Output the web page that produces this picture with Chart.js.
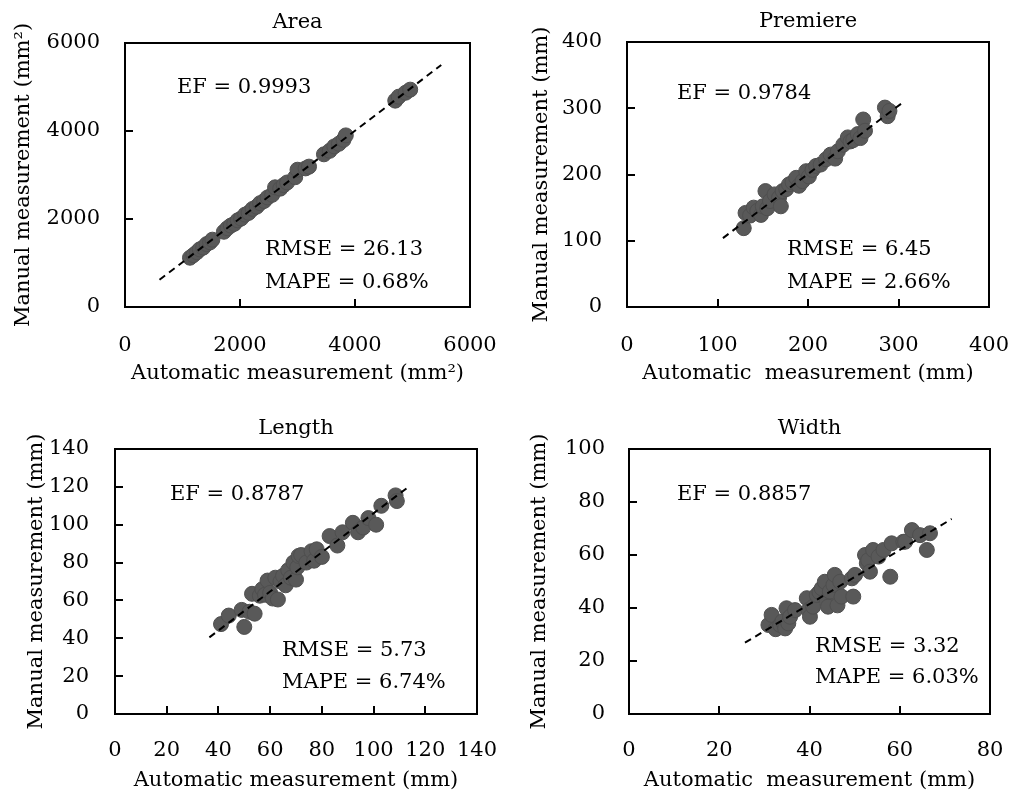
<!DOCTYPE html>
<html>
<head>
<meta charset="utf-8">
<script src="https://cdn.jsdelivr.net/npm/chart.js@4.4.1/dist/chart.umd.min.js"></script>
<style>
  body { margin: 0; background: #fff; }
  #wrap { position: relative; width: 1010px; height: 794px; }
  canvas { position: absolute; }
</style>
</head>
<body>
<div id="wrap">
  <canvas id="area" width="505" height="397" style="left:0;top:0"></canvas>
  <canvas id="premiere" width="505" height="397" style="left:505px;top:0"></canvas>
  <canvas id="length" width="505" height="397" style="left:0;top:397px"></canvas>
  <canvas id="width" width="505" height="397" style="left:505px;top:397px"></canvas>
</div>
<script>
// data
var areaAuto   = [1130, 1190, 1250, 1300, 1360, 1420, 1480, 1520, 1720, 1780, 1840, 1900, 1960, 2020, 2090, 2150, 2220, 2290, 2350, 2420, 2480, 2560, 2610, 2700, 2760, 2820, 2960, 3000, 3140, 3200, 3460, 3560, 3640, 3720, 3800, 3840, 4700, 4760, 4880, 4960];
var areaManual = [1120, 1180, 1245, 1310, 1350, 1430, 1470, 1530, 1710, 1790, 1850, 1890, 1970, 2010, 2100, 2140, 2230, 2280, 2360, 2410, 2490, 2550, 2720, 2690, 2770, 2830, 2950, 3120, 3150, 3190, 3470, 3550, 3650, 3710, 3800, 3900, 4690, 4780, 4870, 4940];
var areaLineX = [600, 5500];
var areaLineY = [620, 5500];

var premAuto   = [129, 131, 136, 140, 144, 148, 150, 153, 155, 158, 163, 168, 170, 172, 176, 179, 183, 187, 190, 194, 198, 201, 205, 209, 214, 220, 225, 230, 233, 239, 244, 247, 250, 255, 258, 261, 263, 285, 288, 290];
var premManual = [119, 142, 138, 150, 145, 139, 152, 175, 149, 160, 170, 165, 152, 175, 178, 185, 188, 195, 183, 190, 205, 197, 207, 213, 215, 223, 230, 224, 235, 245, 256, 250, 252, 261, 255, 283, 266, 301, 288, 296];
var premLineX = [106, 306];
var premLineY = [104, 310];

var lenAuto   = [41, 44, 49, 50, 52, 53, 54, 56, 57, 58, 59, 60, 61, 62, 63, 64, 65, 66, 67, 68, 69, 70, 70.5, 71, 72, 74, 76, 77, 78, 80, 83, 86, 88, 92, 94, 96, 98, 101, 103, 108.5, 109];
var lenManual = [47.5, 52, 55, 46, 54, 63.5, 53, 62.5, 66, 63, 70.5, 64, 61, 72, 60.5, 70, 73, 68, 76, 72, 80, 71, 77.5, 83.5, 84, 80, 86, 81, 87, 83, 94, 89, 96, 101, 96, 98.5, 103.5, 100, 110, 115.5, 112.5];
var lenLineX = [36.5, 114];
var lenLineY = [40.5, 120.5];

var widAuto   = [30.9, 31.6, 32.5, 33.5, 34.0, 34.6, 34.9, 35.3, 35.7, 36.8, 39.4, 39.8, 40.1, 40.8, 41.6, 42.2, 42.7, 43.4, 43.8, 44.1, 44.5, 45.3, 45.6, 46.2, 46.8, 47.1, 49.4, 49.7, 50.1, 52.3, 52.7, 53.0, 53.4, 54.1, 55.3, 56.4, 57.9, 58.2, 60.8, 61.2, 62.7, 64.5, 66.0, 66.7];
var widManual = [33.6, 37.4, 32, 33.6, 35, 32.3, 39.9, 34.2, 36.7, 39.2, 43.7, 39.2, 36.7, 40.5, 44.9, 46, 47.4, 49.9, 43.0, 40.5, 46.2, 48.7, 52.5, 41, 49.9, 44.3, 51.2, 44.3, 52.5, 60.0, 56.9, 58, 53.7, 61.9, 59.4, 61.9, 51.8, 64.4, 65.0, 65, 69.4, 67.5, 61.9, 68.2];
var widLineX = [25.7, 71.5];
var widLineY = [26.9, 73.6];

var FONT = '"DejaVu Serif", serif';
var FSIZE = 21;

function pts(xs, ys) {
  return xs.map(function (v, i) { return { x: v, y: ys[i] }; });
}

// box, inward ticks, panel title and stats text
var decor = {
  id: 'decor',
  afterDraw: function (chart, args, opts) {
    var ctx = chart.ctx, a = chart.chartArea;
    var xs = chart.scales.x, ys = chart.scales.y;
    var v, p;
    ctx.save();
    ctx.strokeStyle = '#000';
    ctx.lineWidth = 2;
    ctx.beginPath();
    for (v = opts.xStep; v < xs.max; v += opts.xStep) {
      p = Math.round(xs.getPixelForValue(v));
      ctx.moveTo(p, a.bottom);
      ctx.lineTo(p, a.bottom - 8);
    }
    for (v = opts.yStep; v < ys.max; v += opts.yStep) {
      p = Math.round(ys.getPixelForValue(v));
      ctx.moveTo(a.left, p);
      ctx.lineTo(a.left + 8, p);
    }
    ctx.stroke();
    ctx.strokeRect(a.left, a.top, a.right - a.left, a.bottom - a.top);

    ctx.fillStyle = '#000';
    ctx.font = FSIZE + 'px ' + FONT;
    ctx.textBaseline = 'middle';
    ctx.textAlign = 'center';
    ctx.fillText(opts.title, (a.left + a.right) / 2, a.top - 20);
    ctx.textAlign = 'left';
    opts.notes.forEach(function (n) {
      ctx.fillText(n.text, a.left + n.dx, a.top + n.dy);
    });
    ctx.restore();
  }
};

function plain(v) { return String(v); }

function panel(id, p) {
  var cw = 505, ch = 397;
  return new Chart(document.getElementById(id), {
    type: 'scatter',
    data: {
      datasets: [{
        type: 'line',
        data: pts(p.lineX, p.lineY),
        borderColor: '#000',
        borderWidth: 2,
        borderDash: [7, 5],
        pointRadius: 0,
        fill: false,
        order: 0
      }, {
        data: pts(p.xs, p.ys),
        backgroundColor: '#595959',
        borderColor: '#4f4f4f',
        borderWidth: 1,
        pointRadius: 7.5,
        order: 1
      }]
    },
    options: {
      responsive: false,
      animation: false,
      layout: { padding: { left: 0, top: p.top, right: cw - p.right, bottom: 0 } },
      plugins: {
        legend: { display: false },
        tooltip: { enabled: false },
        decor: { title: p.title, notes: p.notes, xStep: p.xStep, yStep: p.yStep }
      },
      scales: {
        x: {
          type: 'linear', min: 0, max: p.xMax,
          grid: { display: false, drawTicks: false },
          border: { display: false },
          ticks: { stepSize: p.xStep, padding: p.xPad, color: '#000', font: { family: FONT, size: FSIZE }, callback: plain },
          title: { display: true, text: p.xTitle, color: '#000', padding: { top: 0, bottom: p.xTitlePad }, font: { family: FONT, size: FSIZE } },
          // fixed box: the layout padding already leaves room for the end labels
          afterFit: function (s) { s.height = ch - p.bottom; s.paddingLeft = 0; s.paddingRight = 0; }
        },
        y: {
          type: 'linear', min: 0, max: p.yMax,
          grid: { display: false, drawTicks: false },
          border: { display: false },
          ticks: { stepSize: p.yStep, padding: p.yPad, color: '#000', font: { family: FONT, size: FSIZE }, callback: plain },
          title: { display: true, text: p.yTitle, color: '#000', padding: { top: p.yTitlePad, bottom: 0 }, font: { family: FONT, size: FSIZE } },
          afterFit: function (s) { s.width = p.left; s.paddingTop = 0; s.paddingBottom = 0; }
        }
      }
    },
    plugins: [decor]
  });
}

panel('area', {
  title: 'Area', xs: areaAuto, ys: areaManual, lineX: areaLineX, lineY: areaLineY,
  xMax: 6000, xStep: 2000, yMax: 6000, yStep: 2000,
  left: 125, right: 470, top: 43, bottom: 307,
  xPad: 26, yPad: 25, xTitlePad: 11, yTitlePad: 11,
  xTitle: 'Automatic measurement (mm\u00b2)', yTitle: 'Manual measurement (mm\u00b2)',
  notes: [{ text: 'EF = 0.9993', dx: 52, dy: 45 }, { text: 'RMSE = 26.13', dx: 140, dy: 207 }, { text: 'MAPE = 0.68%', dx: 140, dy: 240 }]
});

panel('premiere', {
  title: 'Premiere', xs: premAuto, ys: premManual, lineX: premLineX, lineY: premLineY,
  xMax: 400, xStep: 100, yMax: 400, yStep: 100,
  left: 122, right: 484, top: 42, bottom: 307,
  xPad: 26, yPad: 25, xTitlePad: 11, yTitlePad: 24,
  xTitle: 'Automatic  measurement (mm)', yTitle: 'Manual measurement (mm)',
  notes: [{ text: 'EF = 0.9784', dx: 50, dy: 52 }, { text: 'RMSE = 6.45', dx: 160, dy: 208 }, { text: 'MAPE = 2.66%', dx: 160, dy: 241 }]
});

panel('length', {
  title: 'Length', xs: lenAuto, ys: lenManual, lineX: lenLineX, lineY: lenLineY,
  xMax: 140, xStep: 20, yMax: 140, yStep: 20,
  left: 115, right: 477, top: 52, bottom: 317,
  xPad: 24, yPad: 26, xTitlePad: 1, yTitlePad: 24,
  xTitle: 'Automatic measurement (mm)', yTitle: 'Manual measurement (mm)',
  notes: [{ text: 'EF = 0.8787', dx: 55, dy: 46 }, { text: 'RMSE = 5.73', dx: 167, dy: 202 }, { text: 'MAPE = 6.74%', dx: 167, dy: 234 }]
});

panel('width', {
  title: 'Width', xs: widAuto, ys: widManual, lineX: widLineX, lineY: widLineY,
  xMax: 80, xStep: 20, yMax: 100, yStep: 20,
  left: 124, right: 485, top: 52, bottom: 317,
  xPad: 24, yPad: 24, xTitlePad: 1, yTitlePad: 22,
  xTitle: 'Automatic  measurement (mm)', yTitle: 'Manual measurement (mm)',
  notes: [{ text: 'EF = 0.8857', dx: 48, dy: 46 }, { text: 'RMSE = 3.32', dx: 186, dy: 198 }, { text: 'MAPE = 6.03%', dx: 186, dy: 229 }]
});
</script>
</body>
</html>
